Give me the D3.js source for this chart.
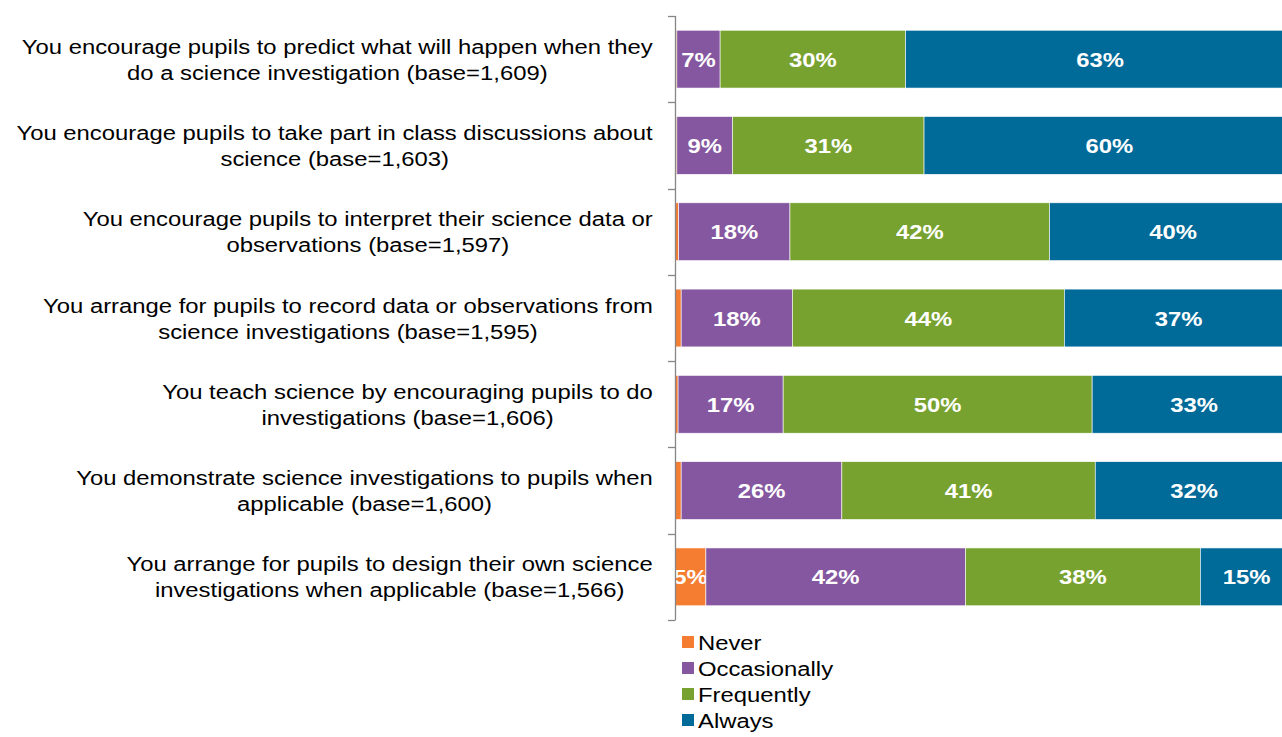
<!DOCTYPE html>
<html><head><meta charset="utf-8">
<script src="https://cdn.jsdelivr.net/npm/d3@7"></script>
<style>
html,body{margin:0;padding:0;background:#fff;overflow:hidden}
svg{display:block;font-family:"Liberation Sans",Arial,sans-serif}
</style></head>
<body>
<svg id="chart" width="1282" height="737"></svg>
<script>
const categories = [
  ["You encourage pupils to predict what will happen when they", "do a science investigation (base=1,609)"],
  ["You encourage pupils to take part in class discussions about", "science (base=1,603)"],
  ["You encourage pupils to interpret their science data or", "observations (base=1,597)"],
  ["You arrange for pupils to record data or observations from", "science investigations (base=1,595)"],
  ["You teach science by encouraging pupils to do", "investigations (base=1,606)"],
  ["You demonstrate science investigations to pupils when", "applicable (base=1,600)"],
  ["You arrange for pupils to design their own science", "investigations when applicable (base=1,566)"]
];
const seriesNames = ["Never", "Occasionally", "Frequently", "Always"];
const never        = [0.3, 0.3, 0.6, 1.0, 0.5, 1.0, 5];
const occasionally = [7, 9, 18, 18, 17, 26, 42];
const frequently   = [30, 31, 42, 44, 50, 41, 38];
const always       = [63, 60, 40, 37, 33, 32, 15];
const colors = ["#F47D32", "#8557A0", "#78A22F", "#006A99"];

const series = [never, occasionally, frequently, always];
const svg = d3.select("#chart");
const ids = categories.map((c,i)=>i);
const S = 1.135;

// stretched text: returns the g; anchor at (x,y) with left alignment
function sText(parent, str, opts){
  const g = parent.append("g");
  const t = g.append("text").attr("x",0).attr("y",0)
    .attr("font-size", opts.size || "21px")
    .attr("font-weight", opts.weight || "normal")
    .attr("fill", opts.fill || "#000")
    .text(str);
  const w = t.node().getComputedTextLength()*S;
  return {g, w, place:(x,y)=>g.attr("transform",`translate(${x},${y}) scale(${S},1)`)};
}

const x = d3.scaleLinear().domain([0,100]).range([675,1293]);
const y = d3.scaleBand().domain(ids).range([16,620]).paddingInner(0.33).paddingOuter(0.165);

// rows
ids.forEach(i=>{
  let cum = 0;
  series.forEach((s,k)=>{
    const v = s[i];
    const x0 = x(cum), x1 = x(cum+v);
    svg.append("rect")
      .attr("x", x0).attr("y", y(i))
      .attr("width", x1-x0).attr("height", y.bandwidth())
      .attr("fill", colors[k])
      .attr("stroke", "#ffffff").attr("stroke-width", 0.6);
    if (v >= 5) {
      const t = sText(svg, Math.round(v) + "%", {weight:"bold", fill:"#fff"});
      t.place((x0+x1)/2 - t.w/2, y(i)+y.bandwidth()/2 + 7.5);
    }
    cum += v;
  });
});

// axis
svg.append("line").attr("x1",675.5).attr("x2",675.5).attr("y1",16).attr("y2",620)
  .attr("stroke","#868686").attr("stroke-width",1.3);
const bounds = ids.map(i=>y(i)-y.step()*y.paddingInner()/2).concat([620]);
bounds[0]=16;
bounds.forEach(b=>{
  svg.append("line").attr("x1",668).attr("x2",675.5).attr("y1",Math.round(b)+0.5).attr("y2",Math.round(b)+0.5)
    .attr("stroke","#868686").attr("stroke-width",1.3);
});

// category labels
const rightEdge = 653;
ids.forEach(i=>{
  const cy = y(i)+y.bandwidth()/2;
  const lines = categories[i];
  const ts = lines.map(l=>sText(svg, l, {}));
  const w = d3.max(ts, t=>t.w);
  ts.forEach((t,j)=> t.place(rightEdge - w/2 - t.w/2, cy + (j - (lines.length-1)/2)*26 + 7.5));
});

// legend
seriesNames.forEach((n,k)=>{
  const ly = 642 + k*26;
  svg.append("rect").attr("x",682).attr("y",ly-6).attr("width",12).attr("height",12).attr("fill",colors[k]);
  sText(svg, n, {}).place(698, ly+7.5);
});
</script>
</body></html>
